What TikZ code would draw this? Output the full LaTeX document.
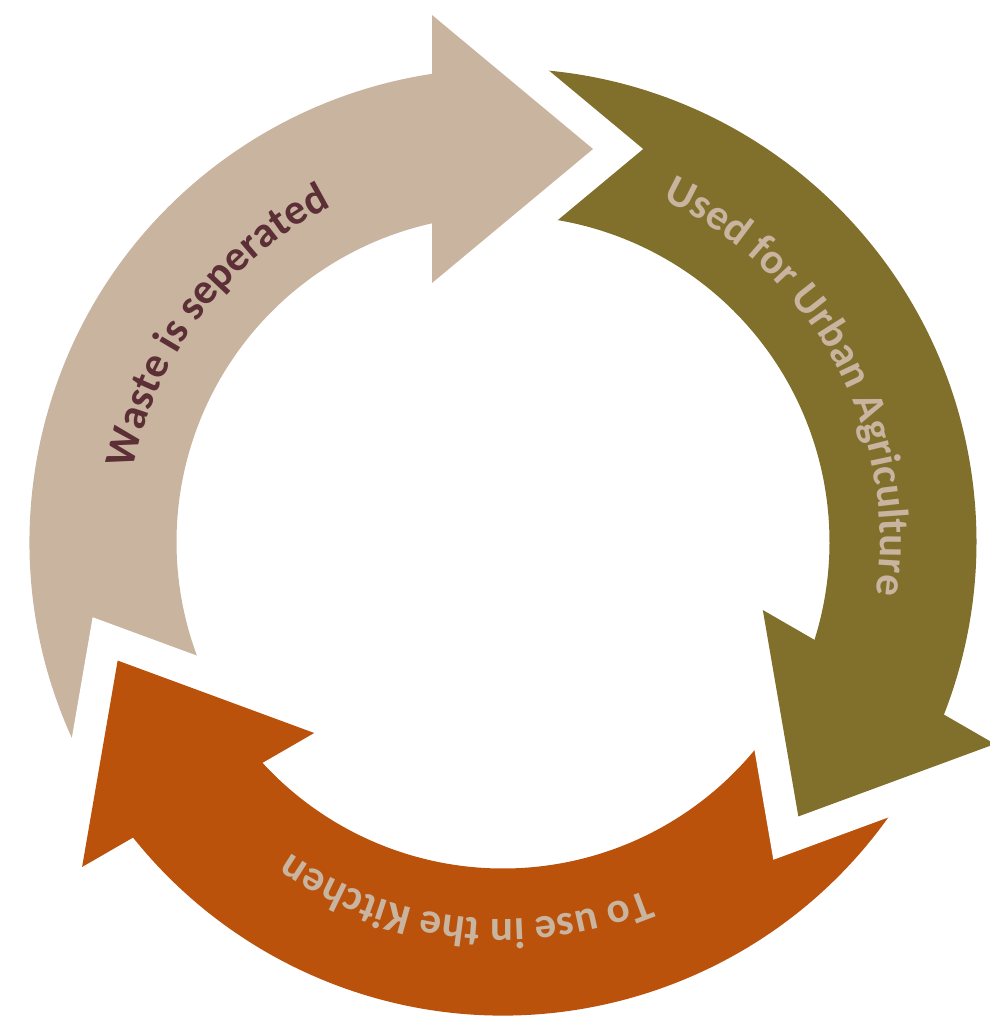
\documentclass[tikz,border=0pt]{standalone}
\usepackage{fontspec}
\newfontfamily\lblfont{Carlito}
\usetikzlibrary{decorations.text}
\definecolor{tanarr}{HTML}{C9B4A0}
\definecolor{olivearr}{HTML}{80702B}
\definecolor{rustarr}{HTML}{BA520C}
\definecolor{maroontxt}{HTML}{5C2E36}
\newcommand{\lbl}{\fontsize{43}{43}\selectfont\lblfont\bfseries}
\begin{document}
\begin{tikzpicture}[x=1pt, y=1pt]
    \useasboundingbox (-503,-474) rectangle (486,542);
    % shafts (ends run a little into the heads)
    \foreach \rot/\col in {0/tanarr, -120/olivearr, 120/rustarr}{
      \fill[\col, rotate=\rot] (214:473.5) arc[start angle=214, end angle=95, radius=473.5]
        -- (99:326.5) arc[start angle=99, end angle=214, radius=326.5] -- cycle;
    }
    % heads, white gap cut into the next tail
    \foreach \rot/\col in {0/tanarr, -120/olivearr, 120/rustarr}{
      \draw[white, line width=64, rotate=\rot] (-71,527) -- (90,393) -- (-71,259);
      \fill[\col, rotate=\rot] (-71,527) -- (90,393) -- (-71,259) -- cycle;
    }
    % labels
    \path[decorate, decoration={text along path, text align=center,
      text={|\lbl\color{maroontxt}|Waste is seperated}}]
      (175:377) arc[start angle=175, end angle=111, radius=377];
    \path[decorate, decoration={text along path, text align=center,
      text={|\lbl\color{tanarr}|Used for Urban Agriculture}}]
      (80:377) arc[start angle=80, end angle=-23, radius=377];
    \path[decorate, decoration={text along path, text align=center,
      text={|\lbl\color{tanarr}|To use in the Kitchen}}]
      (-40:377) arc[start angle=-40, end angle=-152, radius=377];
\end{tikzpicture}
\end{document}
